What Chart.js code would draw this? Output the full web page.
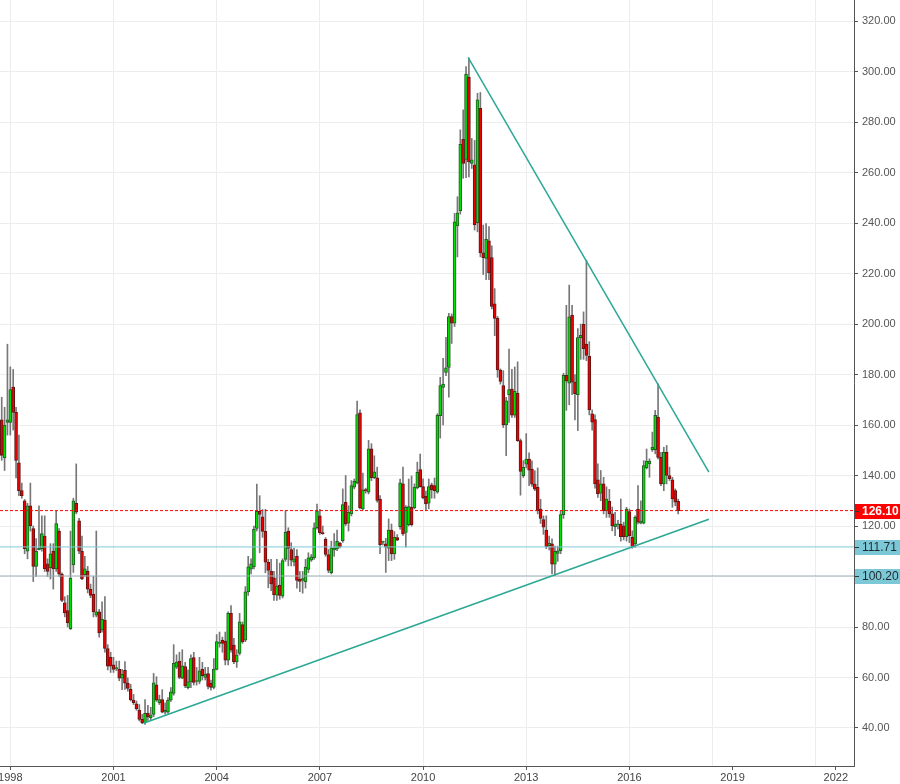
<!DOCTYPE html>
<html lang="en">

<head>
  <meta charset="UTF-8">
  <title>Monthly chart</title>
  <script src="https://cdn.jsdelivr.net/npm/chart.js"></script>
  <style>
    body {
      margin: 0;
      background: #ffffff;
    }

    .container-chart {
      width: 900px;
      height: 784px;
    }
  </style>
</head>

<body>
  <div class="container-chart">
    <canvas id="myChart"></canvas>
  </div>

  <script>
    // first candle = October 1997, one candle per month
    const firstMonth = 1997.75;

    const open = [162, 147, 161, 161, 175, 165, 145, 134, 130, 110,
      128, 119, 104, 110.5, 111, 116, 105, 103.5, 110, 103,
      118, 101, 89.6, 86.5, 79.3, 104.6, 129, 122, 110, 100.7,
      102, 95, 93, 84.7, 86, 78.8, 82.7, 71.5, 68, 65,
      63.5, 63.2, 59.7, 62.8, 57.8, 55.3, 51.1, 49.6, 47.1, 43.4,
      42.1, 45.8, 44.1, 45.4, 57.1, 50, 51.3, 46.3, 46.3, 51,
      53.7, 64.1, 66.5, 59.7, 64.3, 56, 58.2, 67.9, 58.4, 58.4,
      63.2, 60, 61.6, 57.7, 56.1, 63.2, 73.5, 74.8, 74.4, 66.9,
      85.4, 72.8, 66.2, 69.5, 81, 74.8, 93.9, 102.9, 103.8, 119,
      125.8, 123.6, 117.9, 105.7, 102.1, 99.5, 92.6, 96.6, 92.2, 106.8,
      118, 110.7, 105.8, 108.1, 99, 98.4, 97.9, 102.8, 106.5, 107.4,
      119.3, 124, 117.4, 114.7, 108.7, 101.5, 110.5, 110.9, 113.2, 114.2,
      129.4, 121.1, 124.8, 135.4, 137.1, 164.8, 126.8, 134.3, 133.4, 150.6,
      139.1, 139.1, 130.7, 113.5, 112.9, 111.2, 118.4, 108.9, 115.4, 119.7,
      136.7, 117.5, 120.5, 127.4, 127.2, 135.1, 142.3, 135.6, 131.8, 129,
      136.3, 136, 133.4, 163.7, 174.9, 180.8, 182.8, 202.9, 200.3, 238.8,
      244.8, 273.1, 265.2, 297.8, 263.6, 263, 240.1, 285.4, 228.2, 226,
      232.9, 226.3, 208, 202.2, 181.8, 175.6, 160, 172, 174.2, 163.9,
      172.5, 153.8, 139.9, 144.5, 146.5, 142.5, 136.6, 135.3, 126.7, 122.5,
      118.4, 112.2, 112.9, 104.9, 109.1, 110.2, 124.5, 179.7, 176.6, 203.5,
      177, 172, 194.6, 199.9, 192, 187.2, 164.4, 162.1, 138.3, 133,
      136.7, 126.1, 129.8, 124.8, 119.7, 120.5, 120.8, 120.1, 115.8, 125.7,
      115.5, 112.9, 126.7, 121.1, 121.1, 143, 144.6, 150.2, 150.2, 163.1,
      147.2, 136.7, 149.2, 140, 138.3, 134, 129.8];

    const high = [171, 167, 192, 183, 182, 167, 156, 137, 130.5, 129,
      137, 120, 115, 128, 124, 124, 107, 113, 113, 126,
      119, 101.5, 92, 92.5, 118, 131, 144.6, 123, 116, 108,
      104, 97, 100, 118, 87, 90, 92, 73, 70, 68,
      66.5, 66.5, 63.2, 66.3, 59.9, 57.3, 53.3, 50.7, 49.3, 45.4,
      51.3, 49, 48.2, 61.6, 60.3, 53, 55.2, 50, 52, 56,
      73, 69, 70, 71, 66, 63, 69, 70, 64, 68,
      66, 64, 64, 59, 67.5, 77, 78, 76, 78, 86,
      88.5, 75.5, 71, 85.4, 82, 96, 108, 107, 120, 136.6,
      132, 126.5, 126.6, 106.8, 106.8, 102, 106.8, 105.3, 107, 125.9,
      119.3, 113.4, 111.3, 110.7, 102, 102, 106.8, 109.4, 108.7, 121.3,
      128.7, 126.6, 120, 115.4, 110.7, 114, 117, 118.4, 113.5, 134.7,
      140, 128, 138, 138.6, 169.5, 166, 141, 135, 153.9, 152.6,
      147.8, 143.3, 132, 114, 115.1, 122.8, 120.8, 117.8, 116.6, 138.6,
      143.3, 128.1, 138.6, 139.8, 136.7, 145.3, 148.5, 138.7, 133.8, 138.6,
      137, 139, 164.5, 178.9, 186.4, 194.7, 204.2, 204, 243.8, 250.4,
      276.9, 284.8, 302, 305.3, 273.5, 272.7, 291.4, 291.7, 239.2, 239.8,
      238.6, 231, 214, 203, 182.2, 181.5, 171, 190.1, 182, 183,
      185, 154.5, 145.9, 156.6, 149, 145.8, 141.9, 143, 130.6, 124,
      124, 116, 114.9, 112, 112, 126, 180.5, 207.4, 215.4, 207.4,
      180, 198.2, 200, 204.8, 225.3, 193, 166, 164, 144.6, 142,
      139.3, 135.5, 134.5, 127.5, 125.4, 122.2, 130.7, 121.5, 127.4, 126.7,
      118.1, 124, 136, 130, 145.9, 150.5, 146.6, 157.2, 165.8, 176.3,
      149.2, 151.2, 151.9, 143.3, 139.3, 134.7, 130.7];

    const low = [146, 142, 156, 156, 158, 139, 132, 131, 109, 107,
      118, 98, 100, 110.5, 110, 102, 100, 99, 95, 102,
      100, 90, 84, 80, 79, 101.6, 124.8, 109, 98.7, 100,
      93.5, 91.6, 84, 84, 76, 78, 70, 63, 62, 62,
      62.7, 58.7, 55.2, 55.3, 54.6, 50.7, 49.3, 47, 42.8, 41.7,
      41.4, 43, 43.3, 44.5, 50.5, 49.3, 46, 45.5, 45.8, 50.5,
      53, 63.5, 59.5, 59.5, 56, 55.5, 56, 57, 57, 57.5,
      59, 59, 55.5, 55, 55.5, 63, 72, 70, 65, 65,
      70, 65.5, 64, 68.9, 73.5, 74.2, 92.5, 101, 103, 118,
      109.4, 115.5, 101.5, 95.5, 94.4, 90.5, 90.5, 91, 91.5, 106,
      104.2, 104.2, 104.2, 95.4, 94, 93.4, 95.4, 101.5, 106, 106.8,
      118.7, 116.7, 116.7, 108, 101.5, 101, 108, 110.2, 111.3, 113.5,
      120.2, 118, 124, 134.7, 136.7, 126.8, 126.4, 133, 132.7, 138,
      138.7, 129.4, 109, 112.5, 101.6, 106.3, 106.3, 106.8, 114.2, 118.7,
      116.3, 111.6, 120, 120, 126.8, 134.7, 135.4, 130.7, 126.3, 126.8,
      131, 131, 133, 154.8, 160, 179.5, 171, 192.3, 199, 226.6,
      243.5, 257.7, 258, 258.3, 261.6, 237.2, 236.5, 226.6, 219.6, 217.6,
      217.6, 206, 195.4, 178.9, 176.2, 159, 147.9, 161, 163, 163,
      153.5, 132.2, 139.2, 143, 136, 135.7, 134, 124.8, 121, 116.7,
      111, 110.5, 101, 100.3, 106, 109, 123, 165.8, 168, 172,
      162, 157.8, 186, 186, 185.5, 164, 158, 135, 131.3, 130,
      124.8, 123.4, 123.4, 118.1, 116.2, 118.8, 114, 114.5, 114, 113.4,
      111.2, 111.5, 120.8, 120.8, 120.8, 142.6, 139.3, 149.5, 148.6, 146.6,
      136, 134, 136.7, 138, 127.4, 128, 124.8];

    const close = [148, 160, 162, 174, 165, 146, 134, 132, 111, 128,
      120, 104, 110, 111.3, 117, 103, 102, 109, 103, 121,
      101, 90.5, 85.6, 81.6, 99.4, 130, 125.5, 110, 99, 103,
      95, 92.5, 86, 86, 77.7, 83, 71.5, 64.5, 64.5, 63.2,
      63.6, 59.7, 61.3, 57.8, 55.7, 51.1, 50, 47.7, 43.4, 42.1,
      45.8, 44.5, 45.1, 57.9, 51, 51.3, 46.3, 47, 51.1, 54.3,
      65.6, 66.1, 60, 64.6, 56.8, 58.3, 67.5, 58.1, 58.6, 62.6,
      60.7, 61.3, 56.5, 56.1, 63.3, 74.2, 73.8, 73.5, 66.9, 85.4,
      70.9, 66.2, 68.9, 82, 74.1, 93.9, 103.8, 105, 118.7, 125.8,
      124.6, 117.9, 105.7, 102.4, 97.1, 92.8, 96.2, 92.5, 106.3, 117.5,
      111.1, 106.5, 107, 98.4, 98.1, 99.2, 103.7, 107.4, 107.8, 119.3,
      126, 117.4, 117, 108.7, 102.4, 111.4, 111.2, 113.9, 111.8, 128.5,
      120.8, 125.4, 136, 137.7, 164.1, 127.2, 134.3, 134, 150.6, 139.1,
      141.5, 130.1, 112.6, 113.8, 111.6, 118.4, 108.9, 115.5, 114.4, 137.1,
      116.9, 127.4, 127.7, 120.5, 135.4, 141.3, 135.6, 131.1, 128.7, 135.6,
      134.3, 134, 163.8, 175.6, 176.2, 182.6, 202.9, 200.3, 240.5, 244,
      271.2, 263.6, 299, 264.2, 265, 239.2, 288.8, 228.2, 226.3, 233.5,
      220.2, 207, 202.2, 181.8, 177.3, 160, 169.6, 174, 163.9, 173.3,
      153.8, 141.6, 143.2, 146.5, 142.1, 136.6, 134.6, 126.1, 123, 119.5,
      111.8, 113.1, 104.9, 110, 110.2, 124.5, 179.7, 177.4, 202.8, 177,
      172.4, 194.6, 195.5, 190.2, 187.6, 166, 161.1, 136.7, 132.7, 136.7,
      126.1, 130.7, 124.8, 120.1, 120.8, 120.5, 115.8, 115.8, 126.7, 116.2,
      111.8, 123.4, 121.5, 121.9, 143.9, 145.7, 145.7, 151.2, 163.8, 147.2,
      136.7, 149.2, 140, 138.7, 130.7, 129.4, 126.1];

    const yearTicks = [1998, 2001, 2004, 2007, 2010, 2013, 2016, 2019, 2022];
    const gridYears = [1998, 2001, 2004, 2007, 2010, 2013, 2016, 2018.43, 2021.42];
    const priceTicks = [40, 60, 80, 100, 120, 140, 160, 180, 200, 220, 240, 260, 280, 300, 320];

    const lastPrice = 126.10;
    const levelValues = [126.10, 111.71, 100.20];
    const supportLine = [[2001.87, 41.9], [2018.31, 122.7]];
    const resistanceLine = [[2011.31, 305.6], [2018.31, 141.3]];

    const xMin = 1997.70, xMax = 2022.53;
    const yMin = 24.95, yMax = 328.32;

    const fontFamily = "'Liberation Sans', Arial, sans-serif";

    const xs = close.map((c, i) => firstMonth + i / 12);
    const up = close.map((c, i) => c >= open[i]);

    const levelStyle = [
      { box: '#ff0000', text: '#ffffff', bold: true },
      { box: '#7dc8d7', text: '#1e2a2e', bold: false },
      { box: '#7dc8d7', text: '#1e2a2e', bold: false }
    ];

    // price boxes on the right axis
    const levelBoxes = {
      id: 'levelBoxes',
      afterDraw(chart) {
        const c = chart.ctx;
        const y = chart.scales.y;
        c.save();
        levelValues.forEach((v, i) => {
          const py = Math.round(y.getPixelForValue(v));
          const st = levelStyle[i];
          c.fillStyle = st.box;
          c.fillRect(y.left + 1, py - 7, 45, 15);
          c.fillStyle = '#333';
          c.fillRect(y.left + 1, py, 4, 1);
          c.fillStyle = st.text;
          c.font = (st.bold ? 'bold ' : '') + '12px ' + fontFamily;
          c.textBaseline = 'middle';
          c.textAlign = 'left';
          c.fillText(v.toFixed(2), y.left + 8, py + 1);
        });
        c.restore();
      }
    };

    // no extra room round the plot: the price scale fills the whole height
    const noPadding = s => {
      s.paddingTop = 0;
      s.paddingBottom = 0;
      s.paddingLeft = 0;
      s.paddingRight = 0;
    };

    const flat = (v) => [{ x: xMin, y: v }, { x: xMax, y: v }];
    const seg = (l) => l.map(p => ({ x: p[0], y: p[1] }));

    const ctx = document.getElementById('myChart');

    new Chart(ctx, {
      type: 'bar',
      data: {
        datasets: [
          {
            type: 'line', data: seg(resistanceLine), borderColor: '#2aa894', borderWidth: 1.5,
            pointRadius: 0, fill: false, order: 0
          },
          {
            type: 'line', data: seg(supportLine), borderColor: '#2aa894', borderWidth: 1.5,
            pointRadius: 0, fill: false, order: 0
          },
          {
            type: 'line', data: flat(lastPrice), borderColor: '#ff0000', borderWidth: 1,
            borderDash: [3, 2], pointRadius: 0, fill: false, order: 0
          },
          {
            type: 'line', data: flat(levelValues[1]), borderColor: '#7ecbd8', borderWidth: 1,
            pointRadius: 0, fill: false, order: 1
          },
          {
            type: 'line', data: flat(levelValues[2]), borderColor: '#9ab4b9', borderWidth: 1,
            pointRadius: 0, fill: false, order: 1
          },
          {
            label: 'body',
            data: xs.map((x, i) => ({ x: x, y: [open[i], close[i]] })),
            backgroundColor: up.map(u => u ? '#00dd00' : '#ee0000'),
            borderColor: up.map(u => u ? '#245a24' : '#601414'),
            borderWidth: 1,
            borderSkipped: false,
            barThickness: 3,
            minBarLength: 1,
            grouped: false,
            order: 2
          },
          {
            label: 'wick',
            data: xs.map((x, i) => ({ x: x, y: [low[i], high[i]] })),
            backgroundColor: '#777777',
            barThickness: 1,
            grouped: false,
            order: 3
          }
        ]
      },
      options: {
        responsive: true,
        maintainAspectRatio: false,
        animation: false,
        layout: { padding: 0 },
        plugins: {
          legend: { display: false },
          tooltip: { enabled: false }
        },
        scales: {
          x: {
            type: 'linear',
            position: 'bottom',
            min: xMin,
            max: xMax,
            offset: false,
            afterBuildTicks: s => { s.ticks = yearTicks.map(v => ({ value: v })); },
            afterFit: s => { s.height = 18; noPadding(s); },
            ticks: {
              autoSkip: false,
              maxRotation: 0,
              padding: 1,
              color: '#444',
              font: { family: fontFamily, size: 11 },
              callback: v => String(v)
            },
            grid: { drawOnChartArea: false, drawTicks: true, tickLength: 4, tickColor: '#555', offset: false },
            border: { display: true, color: '#555', width: 1 }
          },
          xg: {
            type: 'linear',
            axis: 'x',
            position: 'bottom',
            min: xMin,
            max: xMax,
            offset: false,
            afterBuildTicks: s => { s.ticks = gridYears.map(v => ({ value: v })); },
            afterFit: s => { s.height = 0; noPadding(s); },
            ticks: { display: false },
            grid: { color: '#ededed', drawTicks: false, offset: false },
            border: { display: false }
          },
          y: {
            position: 'right',
            min: yMin,
            max: yMax,
            afterBuildTicks: s => { s.ticks = priceTicks.map(v => ({ value: v })); },
            afterFit: s => { s.width = 46; noPadding(s); },
            ticks: {
              padding: 4,
              color: '#555',
              font: { family: fontFamily, size: 11 },
              callback: v => Number(v).toFixed(2)
            },
            grid: { color: '#ededed', tickColor: '#555', tickLength: 4 },
            border: { color: '#555' }
          }
        }
      },
      plugins: [levelBoxes]
    });
  </script>
</body>

</html>
